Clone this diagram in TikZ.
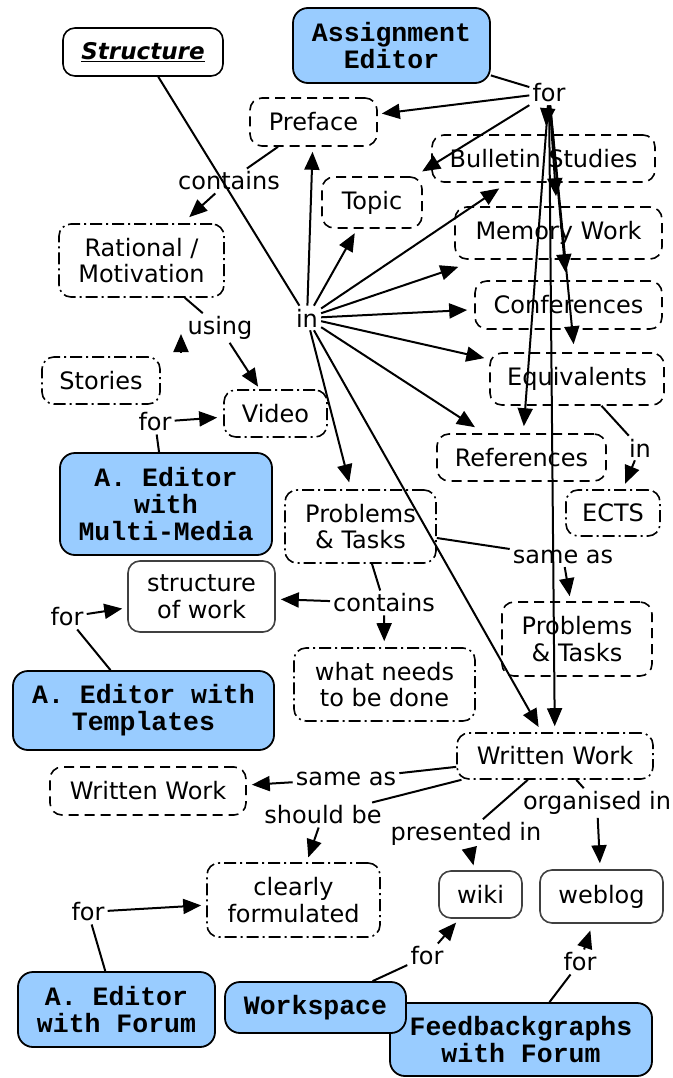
\documentclass[tikz,border=0pt]{standalone}
\usepackage{fontspec}
\setmainfont{DejaVu Sans}
\newfontfamily\monof{Liberation Mono}
\usetikzlibrary{arrows.meta}
\definecolor{cmblue}{RGB}{153,204,255}
\begin{document}
\begin{tikzpicture}[x=1pt,y=-1pt,
  every node/.style={font=\fontsize{24}{26.5}\selectfont, align=center, text=black},
  box/.style={draw, line width=1.6pt, rounded corners=12pt, inner sep=0pt},
  dbox/.style={box, dash pattern=on 10pt off 6pt},
  ddbox/.style={box, dash pattern=on 12pt off 4pt on 2pt off 4pt},
  sbox/.style={box, draw=black!75},
  bbox/.style={box, fill=cmblue, line width=1.8pt, rounded corners=15pt,
    font=\monof\bfseries\fontsize{26.5}{27}\selectfont},
  lab/.style={inner sep=3pt},
  con/.style={line width=2pt},
  arr/.style={con, -{Triangle[length=18pt,width=15pt]}, shorten >=6pt},
  sz/.style 2 args={minimum width=#1pt, minimum height=#2pt}]
\useasboundingbox (0,0) rectangle (672,1078);
% concepts
\node[bbox, sz={197}{75}] (ae) at (391.5,45.5) {Assignment\\Editor};
\node[box, sz={160}{48}, font=\fontsize{23}{26}\selectfont] (struct) at (143,52) {\underline{\textbf{\textit{Structure}}}};
\node[dbox, sz={127}{48}] (preface) at (313.5,122) {Preface};
\node[dbox, sz={100}{51}] (topic) at (372,202.5) {Topic};
\node[dbox, sz={223}{47}] (bull) at (543.5,158.5) {Bulletin Studies};
\node[dbox, sz={207}{52}] (mem) at (558.5,233) {Memory Work};
\node[dbox, sz={187}{48}] (conf) at (568.5,305) {Conferences};
\node[dbox, sz={174}{52}] (equi) at (577,379) {Equivalents};
\node[dbox, sz={169}{47}] (refs) at (521.5,457.5) {References};
\node[ddbox, sz={94}{46}] (ects) at (613,513) {ECTS};
\node[ddbox, sz={165}{73}] (rat) at (141.5,260.5) {Rational /\\Motivation};
\node[ddbox, sz={118}{47}] (stories) at (101,380.5) {Stories};
\node[ddbox, sz={103}{47}] (video) at (275.5,413.5) {Video};
\node[bbox, sz={212}{102}] (aemm) at (166,504) {A. Editor\\with\\Multi-Media};
\node[ddbox, sz={151}{73}] (pt1) at (360.5,526.5) {Problems\\\& Tasks};
\node[sbox, sz={147}{71}] (sow) at (201.5,596.5) {structure\\of work};
\node[dbox, sz={150}{74}] (pt2) at (577,639) {Problems\\\& Tasks};
\node[ddbox, sz={181}{73}] (wn) at (384.5,684.5) {what needs\\to be done};
\node[bbox, sz={261}{79}] (aet) at (143.5,710.5) {A. Editor with\\Templates};
\node[ddbox, sz={196}{46}] (wwr) at (555,756) {Written Work};
\node[dbox, sz={196}{48}] (wwl) at (148,791) {Written Work};
\node[ddbox, sz={173}{74}] (clear) at (293.5,900) {clearly\\formulated};
\node[sbox, sz={83}{47}] (wiki) at (480.5,894.5) {wiki};
\node[sbox, sz={123}{53}] (weblog) at (601.5,896.5) {weblog};
\node[bbox, sz={197}{75}] (aef) at (116.5,1009.5) {A. Editor\\with Forum};
\node[bbox, sz={262}{73}] (fb) at (521,1039.5) {Feedbackgraphs\\with Forum};
\node[bbox, sz={181}{51}] (ws) at (315.5,1007.5) {Workspace};
% linking phrases
\node[lab] (for1) at (549,93) {for};
\node[lab] (in1) at (307,318) {in};
\node[lab] (in2) at (640,448) {in};
\node[lab] (cont1) at (229,181) {contains};
\node[lab] (using) at (220,328) {using};
\node[lab] (for2) at (155,422) {for};
\node[lab] (same1) at (563,557) {same as};
\node[lab] (cont2) at (384,603) {contains};
\node[lab] (for3) at (67,617) {for};
\node[lab] (same2) at (346,779) {same as};
\node[lab] (should) at (323,815) {should be};
\node[lab] (org) at (597,803) {organised in};
\node[lab] (pres) at (466,834) {presented in};
\node[lab] (for4) at (88,912) {for};
\node[lab] (for5) at (427,956) {for};
\node[lab] (for6) at (580,962) {for};
\coordinate (u1) at (181,353);
\coordinate (u2) at (181,334);
% connectors
\draw[con] (ae) -- (for1);
\draw[arr, shorten >=4pt] (for1) -- (preface);
\draw[arr, shorten >=9pt] (for1) -- (topic);
\draw[arr, shorten >=8pt] (for1) -- (bull);
\draw[arr, shorten >=10pt] (for1) -- (mem);
\draw[arr, shorten >=8pt] (for1) -- (conf);
\draw[arr, shorten >=8pt] (for1) -- (equi);
\draw[arr, shorten >=7pt] (for1) -- (refs);
\draw[arr] (for1) -- (wwr);
\draw[con] (struct) -- (in1);
\draw[arr, shorten >=5pt] (in1) -- (preface);
\draw[arr, shorten >=5pt] (in1) -- (topic);
\draw[arr, shorten >=10pt] (in1) -- (bull);
\draw[arr, shorten >=22pt] (in1) -- (mem);
\draw[arr, shorten >=7pt] (in1) -- (conf);
\draw[arr, shorten >=5pt] (in1) -- (equi);
\draw[arr, shorten >=11pt] (in1) -- (refs);
\draw[arr, shorten >=7pt] (in1) -- (pt1);
\draw[arr] (in1) -- (wwr);
\draw[con] (equi) -- (in2);
\draw[arr] (in2) -- (ects);
\draw[con] (preface) -- (cont1);
\draw[arr, shorten >=9pt] (cont1) -- (rat);
\draw[con] (rat) -- (using);
\draw[arr, shorten >=3pt] (using) -- (video);
\draw[arr, shorten >=0pt] (u1) -- (u2);
\draw[con] (aemm) -- (for2);
\draw[arr] (for2) -- (video);
\draw[con] (pt1) -- (same1);
\draw[arr, shorten >=5pt] (same1) -- (pt2);
\draw[con] (pt1) -- (cont2);
\draw[arr, shorten >=5pt] (cont2) -- (sow);
\draw[arr] (cont2) -- (wn);
\draw[con] (aet) -- (for3);
\draw[arr, shorten >=5pt] (for3) -- (sow);
\draw[con] (wwr) -- (same2);
\draw[arr, shorten >=5pt] (same2) -- (wwl);
\draw[con] (wwr) -- (should);
\draw[arr, shorten >=5pt] (should) -- (clear);
\draw[con] (wwr) -- (pres);
\draw[arr, shorten >=5pt] (pres) -- (wiki);
\draw[con] (wwr) -- (org);
\draw[arr] (org) -- (weblog);
\draw[con] (aef) -- (for4);
\draw[arr, shorten >=5pt] (for4) -- (clear);
\draw[con] (ws) -- (for5);
\draw[arr, shorten >=5pt] (for5) -- (wiki);
\draw[con] (fb) -- (for6);
\draw[arr, shorten >=7pt] (for6) -- (weblog);
\end{tikzpicture}
\end{document}
